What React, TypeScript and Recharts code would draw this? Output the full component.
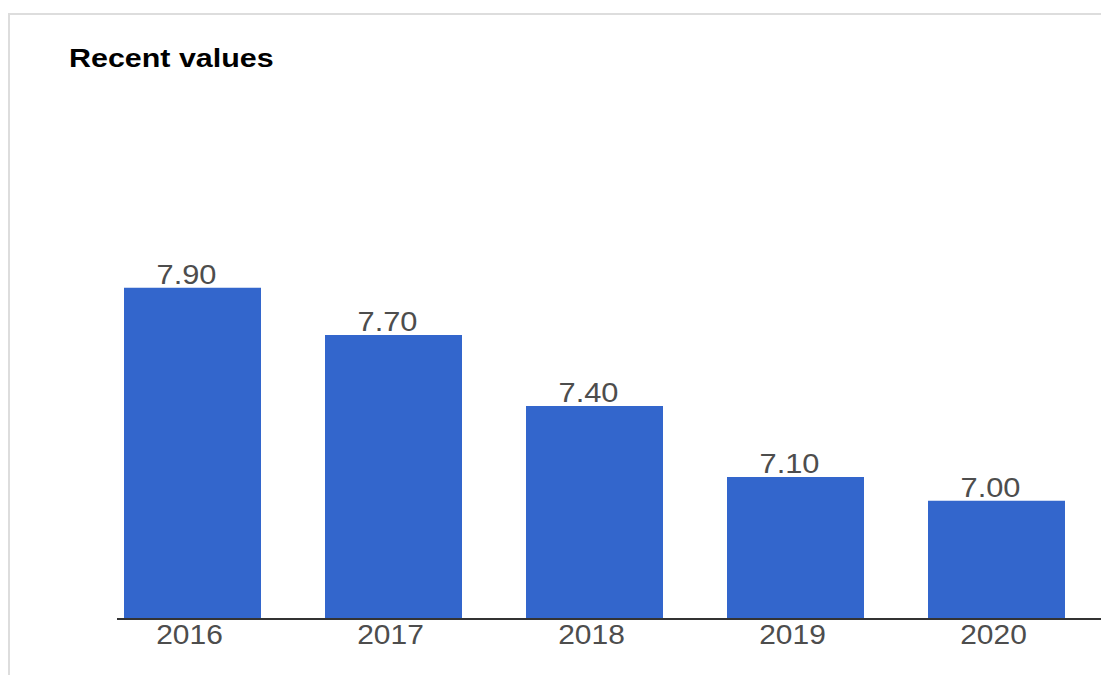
import React from "react";
import { BarChart, Bar, XAxis, YAxis, LabelList } from "recharts";

const years: string[] = ["2016", "2017", "2018", "2019", "2020"];
const values: number[] = [7.9, 7.7, 7.4, 7.1, 7.0];
const title = "Recent values";

const data = years.map((y, i) => ({ year: y, value: values[i] }));

const FONT = "Arial, 'Liberation Sans', sans-serif";

const Tick = (props: any) => {
  const { x, y, payload } = props;
  return (
    <g transform={`translate(${Number(x) - 3},${y})`}>
      <text
        x={0}
        y={0}
        dy={25}
        textAnchor="middle"
        transform="scale(1.07,1)"
        fill="#4d4d4d"
        fontSize={28}
        fontFamily={FONT}
      >
        {payload.value}
      </text>
    </g>
  );
};

const ValueLabel = (props: any) => {
  const { x, y, width, value } = props;
  const cx = Number(x) + Number(width) / 2 - 6;
  return (
    <g transform={`translate(${cx},${Number(y) - 4})`}>
      <text
        x={0}
        y={0}
        textAnchor="middle"
        transform="scale(1.1,1)"
        fill="#4d4d4d"
        fontSize={28}
        fontFamily={FONT}
      >
        {Number(value).toFixed(2)}
      </text>
    </g>
  );
};

export default function App() {
  return (
    <div style={{ position: "relative", width: 1101, height: 667 }}>
      <div
        style={{
          position: "absolute",
          left: 0,
          top: 5,
          width: 1101,
          height: 662,
          borderTop: "2px solid #dddddd",
          borderLeft: "2px solid #dddddd",
          boxSizing: "border-box",
        }}
      />
      <div
        style={{
          position: "absolute",
          left: 61,
          top: 37,
          fontFamily: FONT,
          fontWeight: "bold",
          fontSize: 26,
          lineHeight: "26px",
          color: "#000",
          transform: "scaleX(1.17)",
          transformOrigin: "left top",
          whiteSpace: "nowrap",
        }}
      >
        {title}
      </div>
      <div style={{ position: "absolute", left: 0, top: 0 }}>
        <BarChart
          width={1101}
          height={660}
          data={data}
          margin={{ top: 256, right: 8, bottom: 19, left: 109 }}
          barCategoryGap={32}
        >
          <YAxis hide domain={[6.5, 8.0]} />
          <XAxis
            dataKey="year"
            height={30}
            padding={{ left: -25, right: 4 }}
            axisLine={{ stroke: "#333", strokeWidth: 2 }}
            tickLine={false}
            tickSize={0}
            tickMargin={0}
            tick={<Tick />}
            interval={0}
          />
          <Bar dataKey="value" fill="#3366CC" isAnimationActive={false}>
            <LabelList dataKey="value" content={<ValueLabel />} />
          </Bar>
        </BarChart>
      </div>
    </div>
  );
}
